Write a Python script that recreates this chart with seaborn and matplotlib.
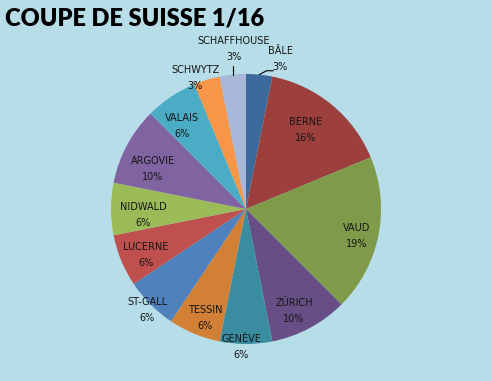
import numpy as np
import matplotlib
matplotlib.use('Agg')
import matplotlib.pyplot as plt
import seaborn as sns

# Data: clubs per canton (wedge sizes) and the shown percentages
cantons = ['BÂLE', 'BERNE', 'VAUD', 'ZÜRICH', 'GENÈVE', 'TESSIN', 'ST-GALL',
           'LUCERNE', 'NIDWALD', 'ARGOVIE', 'VALAIS', 'SCHWYTZ', 'SCHAFFHOUSE']
clubs = [1, 5, 6, 3, 2, 2, 2, 2, 2, 3, 2, 1, 1]
pct_labels = ['3%', '16%', '19%', '10%', '6%', '6%', '6%',
              '6%', '6%', '10%', '6%', '3%', '3%']
colors = ['#3D6A9C', '#9C3F3D', '#7F9A48', '#674F86', '#3A8CA0', '#D18035', '#4F81BD',
          '#C0504D', '#9BBB59', '#8064A2', '#4BACC6', '#F79646', '#A9B8D8']
# label placement: distance from centre (fraction of radius) and angle shift (deg)
label_r = [1.136, 0.735, 0.845, 0.835, 1.023, 0.863, 1.047, 0.815, 0.764, 0.753, 0.779, 1.041, 1.192]
label_shift = [7.2, -2.2, 2.2, 2.9, 2.1, -1.9, -0.6, -2.2, -3.1, -4.9, -3.7, -4.4, 1.3]

bg = '#B7DDE8'
sns.set_style('white')
plt.rcParams['font.family'] = ['DejaVu Sans']

fig = plt.figure(figsize=(4.92, 3.81), dpi=100, facecolor=bg)
ax = fig.add_axes([0.2256, 0.0971, 0.5488, 0.7087])
ax.set_facecolor(bg)

wedges, _ = ax.pie(clubs, colors=colors, startangle=90, counterclock=False,
                   wedgeprops=dict(linewidth=0))
ax.set_aspect('equal')
ax.set_xlim(-1, 1)
ax.set_ylim(-1, 1)
ax.axis('off')

for w, name, lab, r, sh in zip(wedges, cantons, pct_labels, label_r, label_shift):
    mid = (w.theta1 + w.theta2) / 2
    ang = np.deg2rad(mid - sh)
    ax.text(r * np.cos(ang), r * np.sin(ang), f'{name}\n{lab}', ha='center', va='center',
            fontsize=7, color='#151515', linespacing=1.75, clip_on=False)
    # leader lines for the two small outside labels
    if name in ('BÂLE', 'SCHAFFHOUSE'):
        a0 = np.deg2rad(mid)
        x0, y0 = np.cos(a0), np.sin(a0)
        if name == 'BÂLE':
            xs, ys = [x0, x0 + 0.054, x0 + 0.104], [y0, y0 + 0.029, y0 + 0.029]
        else:
            xs, ys = [x0, x0], [y0, y0 + 0.065]
        ax.plot(xs, ys, color='black', lw=0.8, clip_on=False)

fig.text(0.01, 0.98, 'COUPE DE SUISSE 1/16', ha='left', va='top',
         fontsize=17, fontweight='heavy', color='black', family=['Lato', 'DejaVu Sans'])

fig.savefig('out.png', dpi=100, facecolor=bg)
